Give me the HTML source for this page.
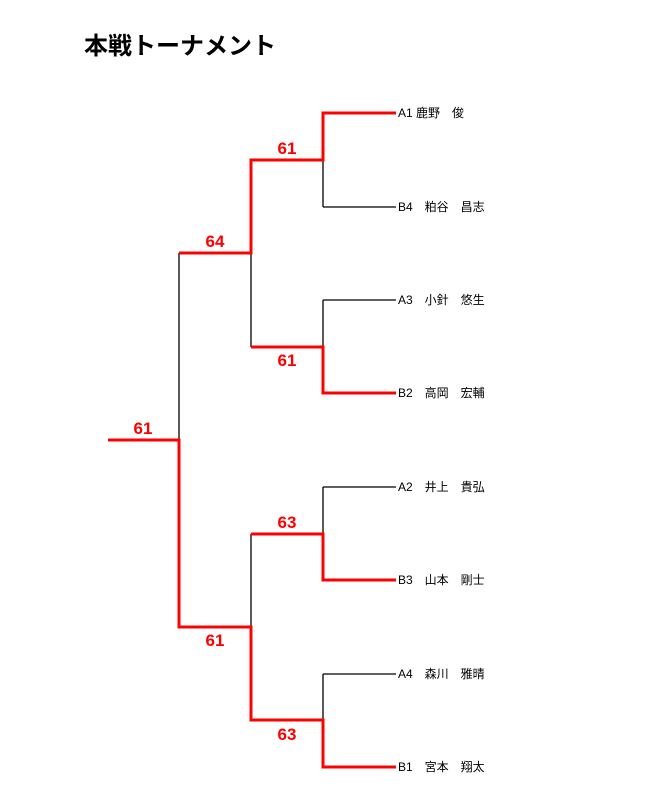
<!DOCTYPE html>
<html><head><meta charset="utf-8"><style>
body{margin:0;background:#fff;width:650px;height:800px;overflow:hidden}
</style></head><body>
<svg width="650" height="800" xmlns="http://www.w3.org/2000/svg" font-family="'Liberation Sans','Noto Sans CJK JP',sans-serif">
<text x="84" y="54" font-size="24" font-weight="bold" fill="#000">本戦トーナメント</text>
<g fill="none" stroke="#000" stroke-width="1.3">
<path d="M323 113V207M323 207H396"/>
<path d="M323 300H396V300M323 300V347"/>
<path d="M323 487H396M323 487V534"/>
<path d="M323 674H396M323 674V720"/>
<path d="M251 253V347"/>
<path d="M251 534V627"/>
<path d="M179 253V440"/>
</g>
<g fill="none" stroke="#f00" stroke-width="3">
<path d="M396 113H323V160H251V253H179"/>
<path d="M396 393H323V347H251"/>
<path d="M396 580H323V534H251"/>
<path d="M396 767H323V720H251V627H179V440H108"/>
</g>
<g fill="#f00" font-size="17" font-weight="bold" text-anchor="middle">
<text x="287" y="154">61</text>
<text x="215" y="247">64</text>
<text x="287" y="366">61</text>
<text x="143" y="434">61</text>
<text x="287" y="528">63</text>
<text x="215" y="646">61</text>
<text x="287" y="740">63</text>
</g>
<g fill="#000" font-size="12">
<text x="398" y="117">A1 鹿野　俊</text>
<text x="398" y="211">B4　粕谷　昌志</text>
<text x="398" y="304">A3　小針　悠生</text>
<text x="398" y="397">B2　高岡　宏輔</text>
<text x="398" y="491">A2　井上　貴弘</text>
<text x="398" y="584">B3　山本　剛士</text>
<text x="398" y="678">A4　森川　雅晴</text>
<text x="398" y="771">B1　宮本　翔太</text>
</g>
</svg>
</body></html>
